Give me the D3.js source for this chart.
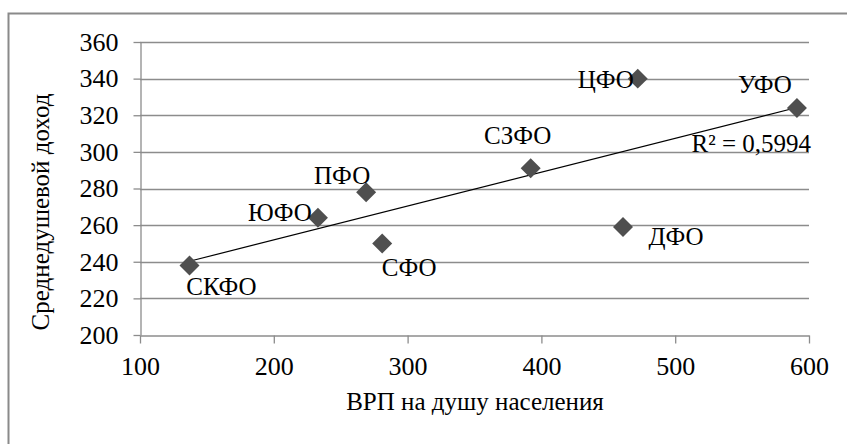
<!DOCTYPE html>
<html>
<head>
<meta charset="utf-8">
<script src="https://cdn.jsdelivr.net/npm/d3@7"></script>
<style>
  body { margin: 0; background: #fff; }
  svg { display: block; }
  text { font-family: "Liberation Serif", "Times New Roman", serif; fill: #000; }
</style>
</head>
<body>
<div id="wrapper"></div>
<script>
// regions and values
const regions = ["СКФО", "ЮФО", "ПФО", "СФО", "СЗФО", "ДФО", "ЦФО", "УФО"];
const grp = [137, 233, 269, 281, 392, 461, 472, 591];
const income = [238, 264, 278, 250, 291, 259, 340, 324];
const xTicks = [100, 200, 300, 400, 500, 600];
const yTicks = [200, 220, 240, 260, 280, 300, 320, 340, 360];
const r2Label = "R² = 0,5994";

// where each label sits relative to its marker
const labelOffset = {
  "СКФО": [32, 30], "ЮФО": [-38, 3], "ПФО": [-24, -8], "СФО": [27, 33],
  "СЗФО": [-13, -24], "ДФО": [53, 18], "ЦФО": [-32, 9], "УФО": [-32, -15]
};

function draw() {
  const width = 847, height = 444;
  const margin = { top: 42, right: 38, bottom: 109, left: 140 };

  const svg = d3.select("#wrapper").append("svg")
    .attr("width", width)
    .attr("height", height);

  // outer frame (only left and top are visible)
  svg.append("path")
    .attr("d", "M8.5," + height + "V13.5H" + width)
    .attr("fill", "none")
    .attr("stroke", "#8a8a8a")
    .attr("stroke-width", 2);

  const x = d3.scaleLinear().domain([100, 600]).range([margin.left, width - margin.right]);
  const y = d3.scaleLinear().domain([200, 360]).range([height - margin.bottom, margin.top]);

  // gridlines
  svg.append("g")
    .selectAll("line")
    .data(yTicks.slice(1))
    .join("line")
      .attr("x1", x(100)).attr("x2", x(600))
      .attr("y1", d => Math.round(y(d)) + 0.5).attr("y2", d => Math.round(y(d)) + 0.5)
      .attr("stroke", "#8c8c8c")
      .attr("stroke-width", 1.3);

  const yAxis = svg.append("g")
    .attr("transform", "translate(" + (Math.round(x(100)) + 0.5) + ",0)")
    .call(d3.axisLeft(y).tickValues(yTicks).tickSize(7).tickPadding(15).tickSizeOuter(0));

  const xAxis = svg.append("g")
    .attr("transform", "translate(0," + (Math.round(y(200)) + 0.5) + ")")
    .call(d3.axisBottom(x).tickValues(xTicks).tickSize(8).tickPadding(13).tickSizeOuter(0));

  svg.selectAll(".tick text")
    .attr("font-size", 26)
    .attr("font-family", "Liberation Serif")
    .style("font-family", "Liberation Serif");
  svg.selectAll(".domain, .tick line").attr("stroke", "#8c8c8c").attr("stroke-width", 1.3);

  // linear trend
  const mx = d3.mean(grp), my = d3.mean(income);
  const sxy = d3.sum(grp, (v, i) => (v - mx) * (income[i] - my));
  const sxx = d3.sum(grp, v => (v - mx) * (v - mx));
  const slope = sxy / sxx, icpt = my - slope * mx;
  const xr = d3.extent(grp);
  svg.append("path")
    .attr("d", d3.line().x(d => x(d)).y(d => y(icpt + slope * d))(xr))
    .attr("stroke", "#000")
    .attr("stroke-width", 1.2)
    .attr("fill", "none");

  // markers
  const pts = regions.map((r, i) => ({ name: r, gx: grp[i], inc: income[i] }));
  svg.append("g")
    .selectAll("path")
    .data(pts)
    .join("path")
      .attr("d", d3.symbol(d3.symbolSquare, 200))
      .attr("transform", d => "translate(" + x(d.gx) + "," + y(d.inc) + ") rotate(45)")
      .attr("fill", "#4f4f4f");

  svg.append("g")
    .selectAll("text")
    .data(pts)
    .join("text")
      .attr("x", d => x(d.gx) + labelOffset[d.name][0])
      .attr("y", d => y(d.inc) + labelOffset[d.name][1])
      .attr("text-anchor", "middle")
      .attr("font-size", 25)
      .text(d => d.name);

  svg.append("text")
    .attr("x", x(600) + 2)
    .attr("y", 152)
    .attr("text-anchor", "end")
    .attr("font-size", 25)
    .text(r2Label);

  // axis titles
  svg.append("text")
    .attr("x", 475)
    .attr("y", 410)
    .attr("text-anchor", "middle")
    .attr("font-size", 25)
    .text("ВРП на душу населения");

  svg.append("text")
    .attr("transform", "translate(49,212) rotate(-90)")
    .attr("text-anchor", "middle")
    .attr("font-size", 25)
    .text("Среднедушевой доход");
}
draw();
</script>
</body>
</html>
